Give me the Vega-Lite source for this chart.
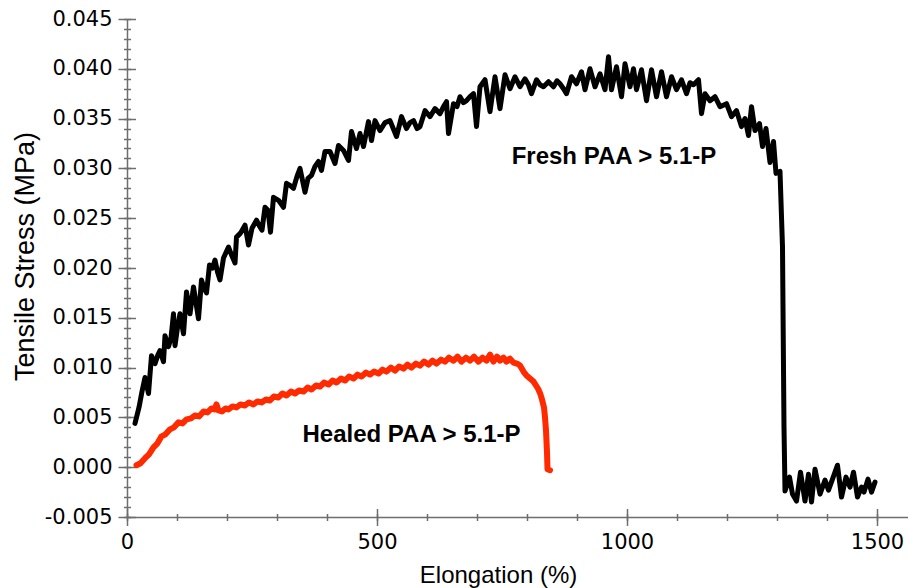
{
  "$schema": "https://vega.github.io/schema/vega-lite/v6.json",
  "width": 781,
  "height": 498,
  "autosize": {"type": "none"},
  "padding": {"left": 127, "top": 19, "right": 0, "bottom": 71},
  "background": "white",
  "config": {
    "view": {"stroke": null},
    "axis": {
      "grid": false,
      "domainColor": "#6e6e6e",
      "tickColor": "#6e6e6e",
      "domainWidth": 1.5,
      "tickWidth": 1.5,
      "labelColor": "#000000",
      "titleColor": "#000000",
      "labelFont": "DejaVu Sans",
      "labelFontSize": 21,
      "titleFont": "Liberation Sans",
      "titleFontWeight": "normal"
    }
  },
  "datasets": {
    "fresh": [
      {"e":16,"s":0.0044},{"e":24,"s":0.0060},{"e":30,"s":0.0076},{"e":36,"s":0.0090},{"e":43,"s":0.0074},
      {"e":49,"s":0.0112},{"e":56,"s":0.0104},{"e":62,"s":0.0113},{"e":66,"s":0.0117},{"e":73,"s":0.0106},
      {"e":76,"s":0.0132},{"e":83,"s":0.0121},{"e":88,"s":0.0130},{"e":93,"s":0.0154},{"e":96,"s":0.0122},
      {"e":101,"s":0.0140},{"e":106,"s":0.0154},{"e":113,"s":0.0134},{"e":119,"s":0.0176},{"e":126,"s":0.0154},
      {"e":133,"s":0.0181},{"e":143,"s":0.0149},{"e":149,"s":0.0188},{"e":154,"s":0.0180},{"e":159,"s":0.0175},
      {"e":165,"s":0.0203},{"e":171,"s":0.0200},{"e":176,"s":0.0208},{"e":181,"s":0.0196},{"e":186,"s":0.0188},
      {"e":193,"s":0.0210},{"e":203,"s":0.0221},{"e":210,"s":0.0212},{"e":216,"s":0.0205},{"e":219,"s":0.0231},
      {"e":227,"s":0.0235},{"e":236,"s":0.0243},{"e":243,"s":0.0223},{"e":250,"s":0.0240},{"e":259,"s":0.0248},
      {"e":265,"s":0.0242},{"e":270,"s":0.0238},{"e":276,"s":0.0261},{"e":282,"s":0.0258},{"e":287,"s":0.0236},
      {"e":293,"s":0.0271},{"e":303,"s":0.0268},{"e":313,"s":0.0261},{"e":319,"s":0.0285},{"e":326,"s":0.0283},
      {"e":333,"s":0.0280},{"e":340,"s":0.0292},{"e":346,"s":0.0300},{"e":356,"s":0.0276},{"e":362,"s":0.0290},
      {"e":369,"s":0.0293},{"e":376,"s":0.0302},{"e":383,"s":0.0307},{"e":389,"s":0.0298},{"e":396,"s":0.0317},
      {"e":406,"s":0.0317},{"e":416,"s":0.0305},{"e":423,"s":0.0323},{"e":433,"s":0.0318},{"e":443,"s":0.0308},
      {"e":449,"s":0.0337},{"e":459,"s":0.0320},{"e":466,"s":0.0335},{"e":473,"s":0.0322},{"e":483,"s":0.0347},
      {"e":489,"s":0.0328},{"e":496,"s":0.0348},{"e":506,"s":0.0338},{"e":516,"s":0.0346},{"e":526,"s":0.0348},
      {"e":539,"s":0.0332},{"e":549,"s":0.0352},{"e":559,"s":0.0340},{"e":566,"s":0.0346},{"e":573,"s":0.0348},
      {"e":580,"s":0.0340},{"e":586,"s":0.0342},{"e":596,"s":0.0358},{"e":606,"s":0.0352},{"e":616,"s":0.0360},
      {"e":626,"s":0.0355},{"e":633,"s":0.0362},{"e":639,"s":0.0367},{"e":643,"s":0.0335},{"e":653,"s":0.0365},
      {"e":660,"s":0.0362},{"e":666,"s":0.0372},{"e":673,"s":0.0366},{"e":679,"s":0.0368},{"e":686,"s":0.0372},
      {"e":693,"s":0.0375},{"e":699,"s":0.0342},{"e":706,"s":0.0382},{"e":716,"s":0.0389},{"e":726,"s":0.0357},
      {"e":736,"s":0.0392},{"e":746,"s":0.0360},{"e":756,"s":0.0394},{"e":766,"s":0.0380},{"e":776,"s":0.0392},
      {"e":786,"s":0.0382},{"e":796,"s":0.0390},{"e":803,"s":0.0384},{"e":809,"s":0.0375},{"e":819,"s":0.0389},
      {"e":826,"s":0.0384},{"e":833,"s":0.0382},{"e":843,"s":0.0387},{"e":853,"s":0.0382},{"e":860,"s":0.0388},
      {"e":866,"s":0.0385},{"e":873,"s":0.0380},{"e":879,"s":0.0375},{"e":889,"s":0.0392},{"e":899,"s":0.0385},
      {"e":909,"s":0.0397},{"e":916,"s":0.0379},{"e":926,"s":0.0400},{"e":936,"s":0.0382},{"e":946,"s":0.0395},
      {"e":956,"s":0.0379},{"e":963,"s":0.0412},{"e":969,"s":0.0379},{"e":979,"s":0.0402},{"e":989,"s":0.0372},
      {"e":996,"s":0.0405},{"e":1006,"s":0.0382},{"e":1013,"s":0.0400},{"e":1019,"s":0.0379},{"e":1029,"s":0.0399},
      {"e":1039,"s":0.0368},{"e":1049,"s":0.0399},{"e":1059,"s":0.0372},{"e":1069,"s":0.0397},{"e":1079,"s":0.0372},
      {"e":1089,"s":0.0392},{"e":1099,"s":0.0379},{"e":1109,"s":0.0389},{"e":1119,"s":0.0375},{"e":1126,"s":0.0386},
      {"e":1133,"s":0.0384},{"e":1143,"s":0.0389},{"e":1149,"s":0.0355},{"e":1156,"s":0.0375},{"e":1166,"s":0.0368},
      {"e":1176,"s":0.0372},{"e":1186,"s":0.0362},{"e":1199,"s":0.0365},{"e":1209,"s":0.0352},{"e":1219,"s":0.0358},
      {"e":1229,"s":0.0342},{"e":1236,"s":0.0350},{"e":1243,"s":0.0333},{"e":1249,"s":0.0362},{"e":1256,"s":0.0338},
      {"e":1265,"s":0.0345},{"e":1271,"s":0.0322},{"e":1278,"s":0.0340},{"e":1286,"s":0.0306},{"e":1293,"s":0.0327},
      {"e":1298,"s":0.0295},{"e":1306,"s":0.0297},{"e":1311,"s":0.0221},{"e":1314,"s":0.0040},{"e":1316,"s":-0.0024},
      {"e":1325,"s":-0.0010},{"e":1331,"s":-0.0027},{"e":1339,"s":-0.0034},{"e":1347,"s":-0.0005},{"e":1356,"s":-0.0034},
      {"e":1363,"s":-0.0007},{"e":1369,"s":-0.0035},{"e":1376,"s":-0.0002},{"e":1386,"s":-0.0027},{"e":1396,"s":-0.0013},
      {"e":1403,"s":-0.0023},{"e":1411,"s":-0.0012},{"e":1421,"s":0.0002},{"e":1429,"s":-0.0030},{"e":1438,"s":-0.0010},
      {"e":1446,"s":-0.0020},{"e":1453,"s":-0.0005},{"e":1461,"s":-0.0030},{"e":1469,"s":-0.0020},{"e":1474,"s":-0.0025},
      {"e":1482,"s":-0.0012},{"e":1489,"s":-0.0025},{"e":1496,"s":-0.0015}
    ],
    "healed": [
      {"e":19,"s":0.0002},{"e":27,"s":0.0004},{"e":36,"s":0.0009},{"e":44,"s":0.0013},{"e":53,"s":0.0020},
      {"e":61,"s":0.0024},{"e":69,"s":0.0031},{"e":77,"s":0.0033},{"e":86,"s":0.0038},{"e":94,"s":0.0040},
      {"e":103,"s":0.0045},{"e":111,"s":0.0044},{"e":119,"s":0.0048},{"e":128,"s":0.0049},{"e":136,"s":0.0052},
      {"e":144,"s":0.0051},{"e":153,"s":0.0056},{"e":161,"s":0.0055},{"e":169,"s":0.0059},{"e":175,"s":0.0058},
      {"e":179,"s":0.0063},{"e":183,"s":0.0057},{"e":190,"s":0.0056},{"e":197,"s":0.0059},{"e":203,"s":0.0058},
      {"e":211,"s":0.0061},{"e":219,"s":0.0060},{"e":227,"s":0.0063},{"e":236,"s":0.0062},{"e":244,"s":0.0065},
      {"e":253,"s":0.0063},{"e":261,"s":0.0066},{"e":269,"s":0.0065},{"e":278,"s":0.0068},{"e":286,"s":0.0067},
      {"e":294,"s":0.0071},{"e":303,"s":0.0070},{"e":311,"s":0.0074},{"e":319,"s":0.0072},{"e":328,"s":0.0076},
      {"e":336,"s":0.0074},{"e":344,"s":0.0077},{"e":353,"s":0.0076},{"e":361,"s":0.0080},{"e":369,"s":0.0078},
      {"e":378,"s":0.0082},{"e":386,"s":0.0081},{"e":394,"s":0.0085},{"e":403,"s":0.0083},{"e":411,"s":0.0087},
      {"e":419,"s":0.0085},{"e":428,"s":0.0089},{"e":436,"s":0.0087},{"e":444,"s":0.0091},{"e":453,"s":0.0089},
      {"e":461,"s":0.0093},{"e":469,"s":0.0091},{"e":478,"s":0.0095},{"e":486,"s":0.0093},{"e":494,"s":0.0096},
      {"e":503,"s":0.0094},{"e":511,"s":0.0098},{"e":519,"s":0.0096},{"e":528,"s":0.0100},{"e":536,"s":0.0097},
      {"e":544,"s":0.0101},{"e":553,"s":0.0099},{"e":561,"s":0.0103},{"e":569,"s":0.0100},{"e":578,"s":0.0104},
      {"e":586,"s":0.0102},{"e":594,"s":0.0106},{"e":603,"s":0.0103},{"e":611,"s":0.0107},{"e":619,"s":0.0104},
      {"e":628,"s":0.0108},{"e":636,"s":0.0106},{"e":644,"s":0.0110},{"e":653,"s":0.0107},{"e":661,"s":0.0111},
      {"e":669,"s":0.0106},{"e":678,"s":0.0110},{"e":686,"s":0.0107},{"e":694,"s":0.0111},{"e":703,"s":0.0106},
      {"e":711,"s":0.0110},{"e":719,"s":0.0107},{"e":726,"s":0.0113},{"e":733,"s":0.0106},{"e":740,"s":0.0111},
      {"e":746,"s":0.0107},{"e":753,"s":0.0110},{"e":759,"s":0.0106},{"e":766,"s":0.0109},{"e":773,"s":0.0105},
      {"e":780,"s":0.0104},{"e":786,"s":0.0102},{"e":793,"s":0.0096},{"e":799,"s":0.0092},{"e":806,"s":0.0089},
      {"e":813,"s":0.0086},{"e":818,"s":0.0082},{"e":823,"s":0.0078},{"e":827,"s":0.0073},{"e":830,"s":0.0068},
      {"e":834,"s":0.0060},{"e":836,"s":0.0050},{"e":838,"s":0.0037},{"e":840,"s":0.0015},{"e":841,"s":-0.0002},
      {"e":846,"s":-0.0003}
    ],
    "label1": [{"e": 974, "s": 0.0311, "t": "Fresh PAA > 5.1-P"}],
    "label2": [{"e": 569, "s": 0.0032, "t": "Healed PAA > 5.1-P"}]
  },
  "layer": [
    {
      "data": {"name": "fresh"},
      "mark": {"type": "line", "color": "#000000", "strokeWidth": 5, "strokeJoin": "round", "strokeCap": "round", "clip": false},
      "encoding": {
        "x": {
          "field": "e", "type": "quantitative",
          "scale": {"domain": [0, 1562], "nice": false, "zero": false},
          "axis": {
            "orient": "bottom", "values": [0, 500, 1000, 1500], "format": "d", "tickSize": 8.5, "labelPadding": 6,
            "title": "Elongation (%)", "titleFontSize": 24, "titleX": 371, "titleY": 65,
            "titleAlign": "center", "titleBaseline": "alphabetic", "labelFlush": false, "labelOverlap": false
          }
        },
        "y": {
          "field": "s", "type": "quantitative",
          "scale": {"domain": [-0.005, 0.045], "nice": false, "zero": false},
          "axis": {
            "orient": "left",
            "values": [-0.005, 0, 0.005, 0.01, 0.015, 0.02, 0.025, 0.03, 0.035, 0.04, 0.045],
            "format": ".3f", "labelExpr": "replace(datum.label, '\u2212', '-')",
            "tickSize": 9, "labelPadding": 6, "labelBaseline": "middle", "labelFlush": false, "labelOverlap": false,
            "title": "Tensile Stress (MPa)", "titleFontSize": 27, "titleAngle": -90, "titleX": -94, "titleY": 237,
            "titleAlign": "center", "titleBaseline": "alphabetic"
          }
        }
      }
    },
    {
      "data": {"name": "healed"},
      "mark": {"type": "line", "color": "#ff2a00", "strokeWidth": 6, "strokeJoin": "round", "strokeCap": "round", "clip": false},
      "encoding": {
        "x": {
          "field": "e", "type": "quantitative",
          "axis": {
            "orient": "bottom", "values": [0, 100, 200, 300, 400, 500, 600, 700, 800, 900, 1000, 1100, 1200, 1300, 1400, 1500],
            "tickSize": 3.5, "labels": false, "domain": false, "title": null
          }
        },
        "y": {
          "field": "s", "type": "quantitative",
          "axis": {
            "orient": "left",
            "values": [-0.005, -0.004, -0.003, -0.002, -0.001, 0, 0.001, 0.002, 0.003, 0.004, 0.005, 0.006, 0.007, 0.008, 0.009, 0.01, 0.011, 0.012, 0.013, 0.014, 0.015, 0.016, 0.017, 0.018, 0.019, 0.02, 0.021, 0.022, 0.023, 0.024, 0.025, 0.026, 0.027, 0.028, 0.029, 0.03, 0.031, 0.032, 0.033, 0.034, 0.035, 0.036, 0.037, 0.038, 0.039, 0.04, 0.041, 0.042, 0.043, 0.044, 0.045],
            "tickSize": 3.5, "labels": false, "domain": false, "title": null
          }
        }
      }
    },
    {
      "data": {"name": "label1"},
      "mark": {"type": "text", "font": "Liberation Sans", "fontSize": 24, "fontWeight": "bold", "align": "center", "baseline": "middle", "color": "#000000"},
      "encoding": {
        "x": {
          "field": "e", "type": "quantitative",
          "axis": {"orient": "bottom", "values": [0, 500, 1000, 1500], "tickSize": -8.5, "labels": false, "domain": false, "title": null}
        },
        "y": {
          "field": "s", "type": "quantitative",
          "axis": {"orient": "left", "values": [-0.005, 0, 0.005, 0.01, 0.015, 0.02, 0.025, 0.03, 0.035, 0.04, 0.045], "tickSize": -8.5, "labels": false, "domain": false, "title": null}
        },
        "text": {"field": "t"}
      }
    },
    {
      "data": {"name": "label2"},
      "mark": {"type": "text", "font": "Liberation Sans", "fontSize": 24, "fontWeight": "bold", "align": "center", "baseline": "middle", "color": "#000000"},
      "encoding": {
        "x": {
          "field": "e", "type": "quantitative",
          "axis": {
            "orient": "bottom", "values": [0, 100, 200, 300, 400, 500, 600, 700, 800, 900, 1000, 1100, 1200, 1300, 1400, 1500],
            "tickSize": -3.5, "labels": false, "domain": false, "title": null
          }
        },
        "y": {
          "field": "s", "type": "quantitative",
          "axis": {
            "orient": "left",
            "values": [-0.005, -0.004, -0.003, -0.002, -0.001, 0, 0.001, 0.002, 0.003, 0.004, 0.005, 0.006, 0.007, 0.008, 0.009, 0.01, 0.011, 0.012, 0.013, 0.014, 0.015, 0.016, 0.017, 0.018, 0.019, 0.02, 0.021, 0.022, 0.023, 0.024, 0.025, 0.026, 0.027, 0.028, 0.029, 0.03, 0.031, 0.032, 0.033, 0.034, 0.035, 0.036, 0.037, 0.038, 0.039, 0.04, 0.041, 0.042, 0.043, 0.044, 0.045],
            "tickSize": -3.5, "labels": false, "domain": false, "title": null
          }
        },
        "text": {"field": "t"}
      }
    }
  ],
  "resolve": {"axis": {"x": "independent", "y": "independent"}}
}
